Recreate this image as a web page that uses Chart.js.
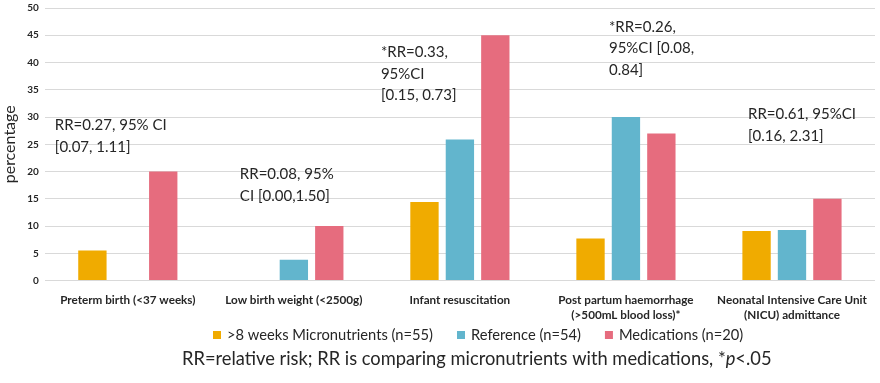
<!DOCTYPE html>
<html>
<head>
<meta charset="utf-8">
<script src="https://cdn.jsdelivr.net/npm/chart.js@4"></script>
<style>
  html, body { margin: 0; padding: 0; background: #fff; }
  #wrap { width: 880px; height: 383px; position: relative; }
</style>
</head>
<body>
<div id="wrap"><canvas id="chart"></canvas></div>
<script>
// ========================
// DATA
// ========================
const categories = [
    "Preterm birth (<37 weeks)",
    "Low birth weight (<2500g)",
    "Infant resuscitation",
    ["Post partum haemorrhage", "(>500mL blood loss)*"],
    ["Neonatal Intensive Care Unit", "(NICU) admittance"]
];
const micronutrients = [5.5, 0, 14.4, 7.7, 9.1];
const reference = [0, 3.8, 25.9, 30, 9.3];
const medications = [20, 10, 45, 27, 15];
const yTicks = [0, 5, 10, 15, 20, 25, 30, 35, 40, 45, 50];

const seriesNames = [
    ">8 weeks Micronutrients (n=55)",
    "Reference (n=54)",
    "Medications (n=20)"
];
const seriesColors = ["#f0ab00", "#62b5cd", "#e66c7e"];

// relative risk notes, one per category
const rrNotes = [
    ["RR=0.27, 95% CI", "[0.07, 1.11]"],
    ["RR=0.08, 95%", "CI [0.00,1.50]"],
    ["*RR=0.33,", "95%CI", "[0.15, 0.73]"],
    ["*RR=0.26,", "95%CI [0.08,", "0.84]"],
    ["RR=0.61, 95%CI", "[0.16, 2.31]"]
];
// where each note sits: category offset (px) and y value of first line
const notePlace = [
    { dx: -73, y: 28.5 },
    { dx: -54, y: 19.5 },
    { dx: -79, y: 41.9 },
    { dx: -17, y: 46.5 },
    { dx: -44, y: 30.5 }
];

const FONT = "Lato, 'Open Sans', sans-serif";
const TEXT = '#262626';

// ========================
// PLUGINS
// ========================
const rrNotesPlugin = {
    id: 'rrNotes',
    afterDatasetsDraw(chart) {
        const { ctx, scales: { x, y } } = chart;
        ctx.save();
        ctx.fillStyle = TEXT;
        ctx.font = '15px ' + FONT;
        ctx.textAlign = 'left';
        ctx.textBaseline = 'middle';
        rrNotes.forEach((lines, i) => {
            const px = x.getPixelForValue(i) + notePlace[i].dx;
            const py = y.getPixelForValue(notePlace[i].y);
            lines.forEach((t, j) => ctx.fillText(t, px, py + j * 21.5));
        });
        ctx.restore();
    }
};

// legend + footnote under the axis
const bottomTextPlugin = {
    id: 'bottomText',
    afterDraw(chart) {
        const { ctx } = chart;
        ctx.save();
        ctx.textBaseline = 'middle';

        // legend
        ctx.font = '14.7px ' + FONT;
        const box = 8, gapText = 6, gapItem = 24;
        let lx = 213;
        seriesNames.forEach((n, i) => {
            if (i) lx += gapItem;
            ctx.fillStyle = seriesColors[i];
            ctx.fillRect(lx, 335 - box / 2, box, box);
            lx += box + gapText;
            ctx.fillStyle = TEXT;
            ctx.fillText(n, lx, 335);
            lx += ctx.measureText(n).width;
        });

        // footnote
        const parts = [
            { t: "RR=relative risk; RR is comparing micronutrients with medications, *", f: '18.3px ' + FONT },
            { t: "p", f: 'italic 18.3px ' + FONT },
            { t: "<.05", f: '18.3px ' + FONT }
        ];
        let px = 182;
        ctx.fillStyle = TEXT;
        parts.forEach(p => {
            ctx.font = p.f;
            ctx.fillText(p.t, px, 359);
            px += ctx.measureText(p.t).width;
        });
        ctx.restore();
    }
};

// ========================
// CHART
// ========================
new Chart(document.getElementById("chart"), {
    type: "bar",
    data: {
        labels: categories,
        datasets: seriesNames.map((n, i) => ({
            label: n,
            data: [micronutrients, reference, medications][i],
            backgroundColor: seriesColors[i]
        }))
    },
    options: {
        responsive: true,
        maintainAspectRatio: false,
        animation: false,
        datasets: {
            bar: { categoryPercentage: 0.64, barPercentage: 0.8, borderWidth: 0 }
        },
        layout: { padding: { top: 8, right: 5, bottom: 56, left: 0 } },
        plugins: {
            legend: { display: false },
            tooltip: { enabled: false }
        },
        scales: {
            y: {
                min: 0,
                max: 50,
                afterBuildTicks(axis) {
                    axis.ticks = yTicks.map(v => ({ value: v }));
                },
                afterFit(axis) {
                    axis.paddingTop = 0;
                },
                border: { display: false },
                grid: { color: '#d9d9d9', lineWidth: 1, drawTicks: false },
                ticks: {
                    padding: 6,
                    color: TEXT,
                    font: { family: FONT, size: 10, weight: 'bold' }
                },
                title: {
                    display: true,
                    text: 'percentage',
                    color: TEXT,
                    padding: { top: 0, bottom: 2 },
                    font: { family: FONT, size: 16 }
                }
            },
            x: {
                border: { display: false },
                grid: { display: false },
                ticks: {
                    padding: 4,
                    color: TEXT,
                    maxRotation: 0,
                    font: { family: FONT, size: 11.7, weight: 'bold', lineHeight: 1.3 }
                }
            }
        }
    },
    plugins: [rrNotesPlugin, bottomTextPlugin]
});
</script>
</body>
</html>
